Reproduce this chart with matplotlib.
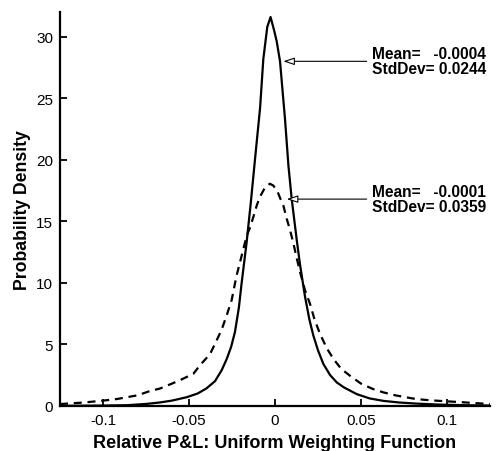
#!/usr/bin/env python3
"""
P&L density curves for the uniform weighting function.
"""

import matplotlib
matplotlib.use('Agg')
import matplotlib.pyplot as plt

# Solid curve (sharper distribution)
solid_x = [-0.125, -0.100, -0.086, -0.075, -0.067, -0.060, -0.0513, -0.045, -0.040,
           -0.0349, -0.031, -0.0281, -0.0255, -0.0233, -0.021, -0.0194, -0.0165,
           -0.0141, -0.0116, -0.0087, -0.0068, -0.0045, -0.0026, -0.0005, 0.001,
           0.0029, 0.0058, 0.0078, 0.0097, 0.0126, 0.0145, 0.0174, 0.020, 0.0223,
           0.025, 0.0281, 0.032, 0.0359, 0.040, 0.0475, 0.055, 0.063, 0.072, 0.082,
           0.095, 0.110, 0.125]
solid_y = [0.0, 0.02, 0.05, 0.15, 0.27, 0.42, 0.7, 1.0, 1.4,
           2.0, 2.9, 3.8, 4.8, 6.0, 8.0, 10.0, 13.3,
           16.5, 20.1, 24.2, 28.2, 30.8, 31.6, 30.5, 29.6,
           28.0, 23.3, 19.5, 16.8, 13.5, 11.5, 8.9, 7.0, 5.7,
           4.5, 3.4, 2.5, 1.9, 1.5, 0.95, 0.6, 0.4, 0.27, 0.18,
           0.1, 0.05, 0.02]

# Dashed curve (wider distribution)
dashed_x = [-0.125, -0.111, -0.100, -0.092, -0.080, -0.0727, -0.067, -0.060, -0.055,
            -0.0475, -0.0436, -0.0378, -0.034, -0.031, -0.028, -0.0252, -0.0225,
            -0.0194, -0.0165, -0.0145, -0.0125, -0.0106, -0.0087, -0.006, -0.003,
            -0.001, 0.0015, 0.0029, 0.0048, 0.0068, 0.0087, 0.0107, 0.0126, 0.0145,
            0.0174, 0.0203, 0.023, 0.026, 0.030, 0.034, 0.0385, 0.0436, 0.050,
            0.057, 0.063, 0.070, 0.0766, 0.082, 0.090, 0.098, 0.110, 0.125]
dashed_y = [0.14, 0.27, 0.42, 0.55, 0.85, 1.2, 1.4, 1.8, 2.1,
            2.6, 3.3, 4.2, 5.3, 6.2, 7.4, 8.6, 10.5,
            12.2, 13.8, 14.5, 15.4, 16.3, 17.0, 17.7, 18.05,
            17.9, 17.4, 16.9, 16.3, 15.2, 14.3, 13.2, 12.0, 10.9,
            9.4, 8.3, 7.0, 5.9, 4.7, 3.8, 3.0, 2.44, 1.8,
            1.36, 1.09, 0.85, 0.68, 0.55, 0.45, 0.38, 0.28, 0.14]

x_ticks = [-0.1, -0.05, 0, 0.05, 0.1]
x_tick_labels = ['-0.1', '-0.05', '0', '0.05', '0.1']
y_ticks = [0, 5, 10, 15, 20, 25, 30]

labels = ['Mean=   -0.0004\nStdDev= 0.0244', 'Mean=   -0.0001\nStdDev= 0.0359']
arrow_tips = [(0.0048, 28.0), (0.0068, 16.8)]
text_x = 0.0565

plt.rcParams['font.family'] = ['Liberation Sans', 'DejaVu Sans']

fig = plt.figure(figsize=(4.96, 4.52), dpi=100)
ax = fig.add_axes([0.121, 0.100, 0.867, 0.871])

ax.plot(solid_x, solid_y, color='black', linewidth=1.6)
ax.plot(dashed_x, dashed_y, color='black', linewidth=1.6, linestyle=(0, (3.6, 2.6)))

for label, tip in zip(labels, arrow_tips):
    ax.annotate(label, xy=tip, xytext=(text_x, tip[1]), fontsize=11.2, fontweight='bold',
                va='center', ha='left', linespacing=1.0,
                arrowprops=dict(arrowstyle='-|>,head_length=0.6,head_width=0.2',
                                fc='white', ec='black', lw=0.8, relpos=(0, 0.5),
                                shrinkA=2, shrinkB=0))

ax.set_xlim(-0.125, 0.125)
ax.set_ylim(0, 32)
ax.set_xticks(x_ticks)
ax.set_xticklabels(x_tick_labels)
ax.set_yticks(y_ticks)
ax.tick_params(direction='in', length=5, width=1.3, labelsize=11, pad=5)

for side in ['top', 'right']:
    ax.spines[side].set_visible(False)
for side in ['left', 'bottom']:
    ax.spines[side].set_linewidth(1.6)

ax.set_xlabel('Relative P&L: Uniform Weighting Function', fontsize=13, fontweight='bold', labelpad=5)
ax.set_ylabel('Probability Density', fontsize=12.7, fontweight='bold', labelpad=4)

plt.savefig('out.png', dpi=100)
